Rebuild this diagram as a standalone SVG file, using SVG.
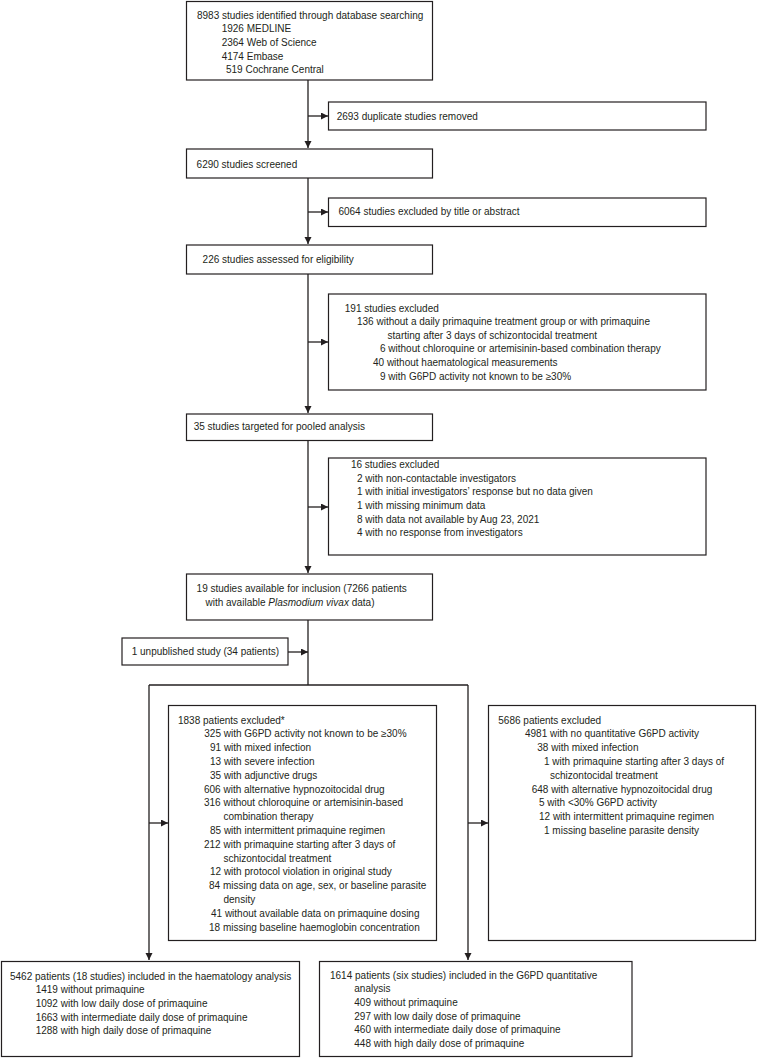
<svg xmlns="http://www.w3.org/2000/svg" width="757" height="1058" viewBox="0 0 757 1058">
<style>
.box{fill:#fff;stroke:#231f20;stroke-width:1.2}
.ln{fill:none;stroke:#231f20;stroke-width:1.3}
text{font-family:"Liberation Sans",Arial,sans-serif;font-size:10px;fill:#231f20}
.it{font-style:italic}
</style>
<defs>
<marker id="ah" markerUnits="userSpaceOnUse" markerWidth="8" markerHeight="8" refX="7" refY="3.5" orient="auto">
<path d="M0,0 L7,3.5 L0,7 z" fill="#231f20"/>
</marker>
</defs>
<rect width="757" height="1058" fill="#fff"/>
<g id="connectors">
<path class="ln" d="M308,80 V148" marker-end="url(#ah)"/>
<path class="ln" d="M308,116 H328" marker-end="url(#ah)"/>
<path class="ln" d="M308,178 V244" marker-end="url(#ah)"/>
<path class="ln" d="M308,212 H328" marker-end="url(#ah)"/>
<path class="ln" d="M308,274 V413" marker-end="url(#ah)"/>
<path class="ln" d="M308,342 H328" marker-end="url(#ah)"/>
<path class="ln" d="M308,440 V573" marker-end="url(#ah)"/>
<path class="ln" d="M308,507 H328" marker-end="url(#ah)"/>
<path class="ln" d="M308,620 V685"/>
<path class="ln" d="M288,652 H308" marker-end="url(#ah)"/>
<path class="ln" d="M149,685 H468"/>
<path class="ln" d="M149,685 V960" marker-end="url(#ah)"/>
<path class="ln" d="M468,685 V960" marker-end="url(#ah)"/>
<path class="ln" d="M149,823 H168" marker-end="url(#ah)"/>
<path class="ln" d="M468,823 H488" marker-end="url(#ah)"/>
</g>
<g id="n-identified">
<rect class="box" x="186.5" y="1.5" width="246" height="78.5"/>
<text x="197" y="18.5">8983 studies identified through database searching</text>
<text x="221.7" y="32.2">1926 MEDLINE</text>
<text x="221.7" y="45.9">2364 Web of Science</text>
<text x="221.7" y="59.6">4174 Embase</text>
<text x="226" y="73.3">519 Cochrane Central</text>
</g>
<g id="n-duplicates">
<rect class="box" x="328.5" y="102" width="377.5" height="28"/>
<text x="336.7" y="119.5">2693 duplicate studies removed</text>
</g>
<g id="n-screened">
<rect class="box" x="186.5" y="149" width="246" height="29"/>
<text x="196.6" y="167.5">6290 studies screened</text>
</g>
<g id="n-excluded-title">
<rect class="box" x="328.5" y="198" width="377.5" height="28.5"/>
<text x="338.4" y="215.2">6064 studies excluded by title or abstract</text>
</g>
<g id="n-eligibility">
<rect class="box" x="186.5" y="245" width="246" height="29"/>
<text x="202.6" y="262.8">226 studies assessed for eligibility</text>
</g>
<g id="n-excluded-191">
<rect class="box" x="328.5" y="294" width="377.5" height="96"/>
<text x="344.8" y="311.5">191 studies excluded</text>
<text x="357" y="325.1">136 without a daily primaquine treatment group or with primaquine</text>
<text x="387.6" y="338.7">starting after 3 days of schizontocidal treatment</text>
<text x="380" y="352.3">6 without chloroquine or artemisinin-based combination therapy</text>
<text x="373" y="365.9">40 without haematological measurements</text>
<text x="380" y="379.5">9 with G6PD activity not known to be ≥30%</text>
</g>
<g id="n-targeted">
<rect class="box" x="186.5" y="414" width="246" height="26.5"/>
<text x="193.7" y="429.5">35 studies targeted for pooled analysis</text>
</g>
<g id="n-excluded-16">
<rect class="box" x="328.5" y="458" width="377.5" height="97"/>
<text x="350.9" y="467.8">16 studies excluded</text>
<text x="357" y="481.5">2 with non-contactable investigators</text>
<text x="357" y="495.2">1 with initial investigators’ response but no data given</text>
<text x="357" y="508.9">1 with missing minimum data</text>
<text x="357" y="522.6">8 with data not available by Aug 23, 2021</text>
<text x="357" y="536.3">4 with no response from investigators</text>
</g>
<g id="n-available">
<rect class="box" x="186.5" y="574" width="246" height="46"/>
<text x="196.6" y="591.8">19 studies available for inclusion (7266 patients</text>
<text x="205.5" y="605.8">with available <tspan class="it">Plasmodium vivax</tspan> data)</text>
</g>
<g id="n-unpublished">
<rect class="box" x="122" y="638" width="166" height="27"/>
<text x="131.7" y="655.2">1 unpublished study (34 patients)</text>
</g>
<g id="n-excluded-1838">
<rect class="box" x="168.5" y="705.5" width="268" height="235"/>
<text x="178" y="723.5">1838 patients excluded*</text>
<text x="204.3" y="737.3">325 with G6PD activity not known to be ≥30%</text>
<text x="210" y="751.1">91 with mixed infection</text>
<text x="210" y="764.9">13 with severe infection</text>
<text x="210" y="778.7">35 with adjunctive drugs</text>
<text x="204" y="792.5">606 with alternative hypnozoitocidal drug</text>
<text x="204" y="806.3">316 without chloroquine or artemisinin-based</text>
<text x="223.5" y="820.1">combination therapy</text>
<text x="210" y="833.9">85 with intermittent primaquine regimen</text>
<text x="204" y="847.7">212 with primaquine starting after 3 days of</text>
<text x="223.5" y="861.5">schizontocidal treatment</text>
<text x="210" y="875.3">12 with protocol violation in original study</text>
<text x="209" y="889.1">84 missing data on age, sex, or baseline parasite</text>
<text x="223.5" y="902.9">density</text>
<text x="211" y="916.7">41 without available data on primaquine dosing</text>
<text x="209" y="930.5">18 missing baseline haemoglobin concentration</text>
</g>
<g id="n-excluded-5686">
<rect class="box" x="488.5" y="705.5" width="267" height="235"/>
<text x="498.3" y="723.5">5686 patients excluded</text>
<text x="525" y="737.3">4981 with no quantitative G6PD activity</text>
<text x="537.3" y="751.1">38 with mixed infection</text>
<text x="544" y="764.9">1 with primaquine starting after 3 days of</text>
<text x="550" y="778.7">schizontocidal treatment</text>
<text x="531.7" y="792.5">648 with alternative hypnozoitocidal drug</text>
<text x="539" y="806.3">5 with &lt;30% G6PD activity</text>
<text x="539" y="820.1">12 with intermittent primaquine regimen</text>
<text x="544" y="833.9">1 missing baseline parasite density</text>
</g>
<g id="n-haematology">
<rect class="box" x="1.5" y="961.5" width="298" height="95"/>
<text x="10" y="979.5">5462 patients (18 studies) included in the haematology analysis</text>
<text x="35.7" y="993.2">1419 without primaquine</text>
<text x="35.7" y="1006.9">1092 with low daily dose of primaquine</text>
<text x="35.7" y="1020.6">1663 with intermediate daily dose of primaquine</text>
<text x="35.7" y="1034.3">1288 with high daily dose of primaquine</text>
</g>
<g id="n-g6pd">
<rect class="box" x="319.5" y="961.5" width="312.5" height="95"/>
<text x="330" y="978.5">1614 patients (six studies) included in the G6PD quantitative</text>
<text x="354.3" y="992.2">analysis</text>
<text x="354.3" y="1005.9">409 without primaquine</text>
<text x="354.3" y="1019.6">297 with low daily dose of primaquine</text>
<text x="354.3" y="1033.3">460 with intermediate daily dose of primaquine</text>
<text x="354.3" y="1047">448 with high daily dose of primaquine</text>
</g>
</svg>
